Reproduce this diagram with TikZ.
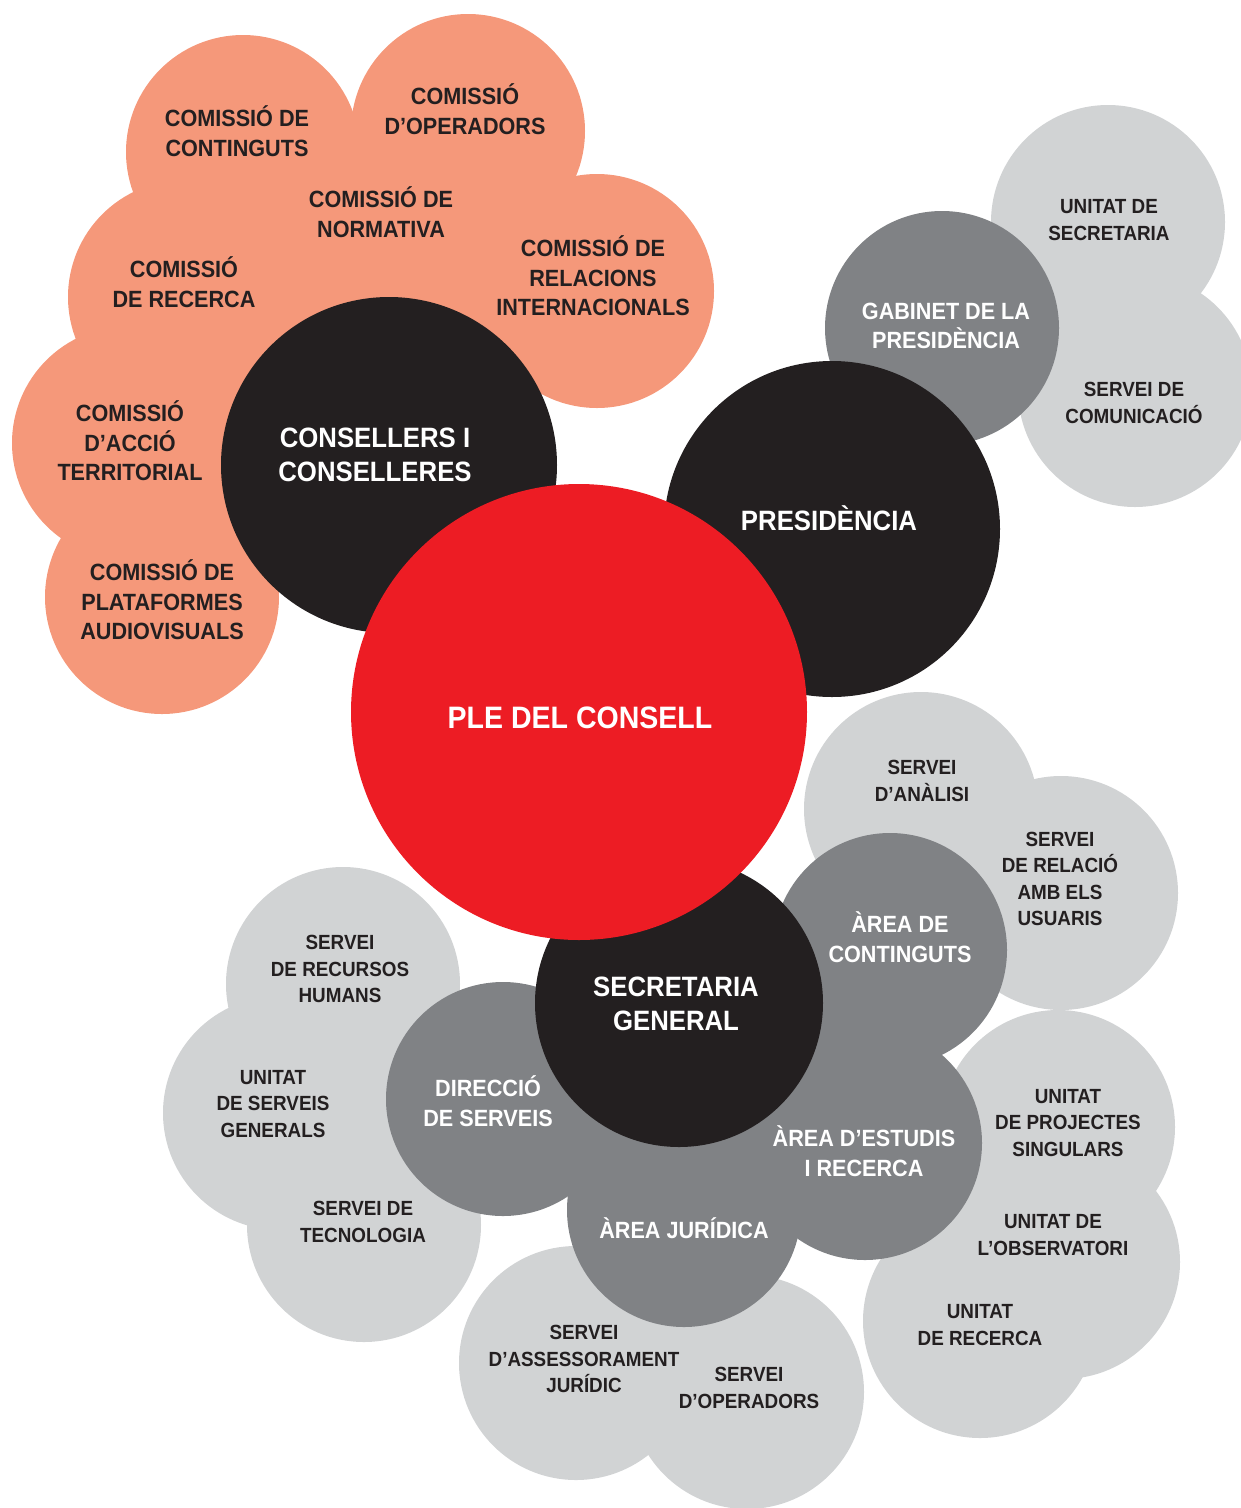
\documentclass[tikz,border=0pt]{standalone}
\usepackage{fontspec}
\setmainfont{Liberation Sans}[FakeStretch=0.92]
\usepackage{tikz}

\definecolor{salmon}{HTML}{F5987A}
\definecolor{plered}{HTML}{ED1C24}
\definecolor{inkblack}{HTML}{231F20}
\definecolor{darkgrey}{HTML}{808285}
\definecolor{lightgrey}{HTML}{D1D3D4}

\begin{document}
\begin{tikzpicture}[x=1pt, y=-1pt,
    txt/.style={align=center, inner sep=0pt, font=\bfseries\fontsize{23.5}{29.5}\selectfont},
    comtxt/.style={txt, text=inkblack},
    areatxt/.style={txt, text=white},
    unittxt/.style={txt, text=inkblack, font=\bfseries\fontsize{20.5}{26.6}\selectfont},
    headtxt/.style={txt, text=white, font=\bfseries\fontsize{28}{34}\selectfont}]
  \useasboundingbox (0,0) rectangle (1241,1508);

  \foreach \x/\y in {243/152, 468/131, 392/262, 597/291, 185/297, 129/443, 162/597}
    \fill[salmon] (\x,\y) circle[radius=117pt];
  \foreach \x/\y in {1108/222, 1135/390, 921/809, 1061/893, 343/984, 280/1113, 364/1225,
                     576/1363, 747/1392, 1058/1127, 1063/1262, 980/1321}
    \fill[lightgrey] (\x,\y) circle[radius=117pt];
  \foreach \x/\y in {942/328, 890/950, 503/1099, 865/1143, 684/1210}
    \fill[darkgrey] (\x,\y) circle[radius=117pt];
  \foreach \x/\y/\r in {389/465/168, 832/529/168, 679/1003/144}
    \fill[inkblack] (\x,\y) circle[radius=\r pt];
  \fill[plered] (579,712) circle[radius=228pt];

  \node[comtxt] (comcont) at (237,131) {COMISSIÓ DE\\CONTINGUTS};
  \node[comtxt] (comoper) at (465,109) {COMISSIÓ\\D’OPERADORS};
  \node[comtxt] (comnorm) at (381,212) {COMISSIÓ DE\\NORMATIVA};
  \node[comtxt] (comrel) at (593,276) {COMISSIÓ DE\\RELACIONS\\INTERNACIONALS};
  \node[comtxt] (comrec) at (184,282) {COMISSIÓ\\DE RECERCA};
  \node[comtxt] (comterr) at (130,441) {COMISSIÓ\\D’ACCIÓ\\TERRITORIAL};
  \node[comtxt] (complat) at (162,600) {COMISSIÓ DE\\PLATAFORMES\\AUDIOVISUALS};

  \node[headtxt] (consellers) at (375,455) {CONSELLERS I\\CONSELLERES};
  \node[headtxt] (presidencia) at (829,518) {PRESIDÈNCIA};
  \node[headtxt] (secretaria) at (676,1004) {SECRETARIA\\GENERAL};
  \node[txt, text=white, font=\bfseries\fontsize{31}{36}\selectfont] (ple) at (580,718) {PLE DEL CONSELL};

  \node[areatxt] (gabinet) at (946,326) {GABINET DE LA\\PRESIDÈNCIA};
  \node[areatxt] (areacont) at (900,937) {ÀREA DE\\CONTINGUTS};
  \node[areatxt] (direccio) at (488,1101) {DIRECCIÓ\\DE SERVEIS};
  \node[areatxt] (areaest) at (864,1151) {ÀREA D’ESTUDIS\\I RECERCA};
  \node[areatxt] (areajur) at (684,1228) {ÀREA JURÍDICA};

  \node[unittxt] (unitsec) at (1109,220) {UNITAT DE\\SECRETARIA};
  \node[unittxt] (servcom) at (1134,403) {SERVEI DE\\COMUNICACIÓ};
  \node[unittxt] (servanal) at (922,781) {SERVEI\\D’ANÀLISI};
  \node[unittxt] (servrel) at (1060,879) {SERVEI\\DE RELACIÓ\\AMB ELS\\USUARIS};
  \node[unittxt] (servrh) at (340,969) {SERVEI\\DE RECURSOS\\HUMANS};
  \node[unittxt] (unitsg) at (273,1104) {UNITAT\\DE SERVEIS\\GENERALS};
  \node[unittxt] (servtec) at (363,1222) {SERVEI DE\\TECNOLOGIA};
  \node[unittxt] (servass) at (584,1359) {SERVEI\\D’ASSESSORAMENT\\JURÍDIC};
  \node[unittxt] (servoper) at (749,1388) {SERVEI\\D’OPERADORS};
  \node[unittxt] (unitproj) at (1068,1123) {UNITAT\\DE PROJECTES\\SINGULARS};
  \node[unittxt] (unitobs) at (1053,1235) {UNITAT DE\\L’OBSERVATORI};
  \node[unittxt] (unitrec) at (980,1325) {UNITAT\\DE RECERCA};
\end{tikzpicture}
\end{document}
